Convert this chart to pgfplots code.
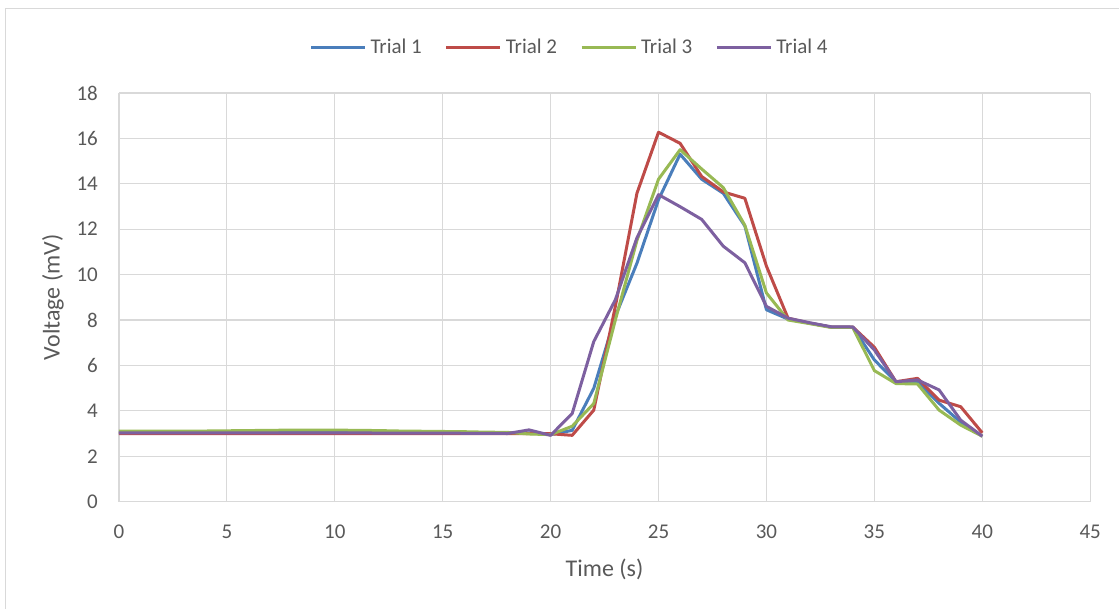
\documentclass[border=0pt]{standalone}
\usepackage{pgfplots}
\pgfplotsset{compat=1.18}
\usepackage{pgfplotstable}
\usepackage{fontspec}
\setmainfont{Carlito}
\definecolor{cT1}{HTML}{4A7EBB}
\definecolor{cT2}{HTML}{BE4B48}
\definecolor{cT3}{HTML}{98B954}
\definecolor{cT4}{HTML}{7D60A0}
\definecolor{txtgray}{HTML}{595959}
\definecolor{gridgray}{HTML}{D9D9D9}
\pgfplotstableread{
x T1 T2 T3 T4
0 3.05 3.00 3.10 3.03
1 3.05 3.00 3.10 3.03
2 3.05 3.00 3.10 3.03
3 3.05 3.00 3.11 3.03
4 3.05 3.00 3.11 3.03
5 3.05 3.00 3.12 3.03
6 3.05 3.00 3.13 3.03
7 3.05 3.00 3.14 3.03
8 3.06 3.00 3.15 3.03
9 3.06 3.00 3.15 3.03
10 3.06 2.99 3.15 3.03
11 3.06 2.99 3.14 3.03
12 3.05 2.99 3.13 3.02
13 3.05 2.99 3.11 3.02
14 3.05 2.99 3.10 3.02
15 3.04 2.99 3.09 3.02
16 3.04 2.99 3.08 3.01
17 3.03 2.99 3.06 3.01
18 3.02 2.99 3.05 3.00
19 3.03 3.00 2.98 3.16
20 2.95 2.99 2.95 2.92
21 3.14 2.92 3.32 3.88
22 4.99 4.03 4.32 7.05
23 8.16 8.60 8.00 8.89
24 10.50 13.58 11.50 11.62
25 13.30 16.27 14.20 13.52
26 15.30 15.78 15.50 12.99
27 14.20 14.32 14.65 12.43
28 13.58 13.64 13.83 11.25
29 12.14 13.36 12.17 10.52
30 8.45 10.37 9.19 8.60
31 8.04 8.08 8.00 8.08
32 7.86 7.86 7.84 7.88
33 7.69 7.69 7.67 7.70
34 7.69 7.69 7.67 7.69
35 6.24 6.80 5.77 6.68
36 5.28 5.28 5.20 5.28
37 5.28 5.43 5.18 5.36
38 4.33 4.47 4.03 4.92
39 3.50 4.18 3.37 3.59
40 2.88 3.03 2.88 2.88
}\data
\begin{document}
\begin{tikzpicture}[x=1pt,y=1pt]
\draw[gridgray, line width=0.8pt] (2.75,0) -- (2.75,300.25) -- (560,300.25);
\useasboundingbox (0,0) rectangle (560,304.5);
\begin{axis}[
  at={(59.5pt,53.5pt)}, anchor=south west,
  scale only axis, width=486pt, height=204.5pt,
  xmin=0, xmax=45, ymin=0, ymax=18,
  xtick={0,5,...,45}, ytick={0,2,...,18},
  grid=major,
  major grid style={gridgray, line width=0.6pt},
  axis line style={draw=none},
  axis x line*=bottom, axis y line*=left,
  x axis line style={draw=gridgray, line width=0.8pt},
  tick style={draw=none},
  major tick length=0pt,
  ticklabel style={font=\fontsize{10.5}{12}\selectfont, text=txtgray},
  /pgf/number format/assume math mode=true,
  xticklabel style={yshift=-8pt},
  yticklabel style={xshift=-7pt},
  xlabel={Time (s)},
  ylabel={Voltage (mV)},
  label style={font=\fontsize{12}{14}\selectfont, text=txtgray},
  xlabel style={yshift=-3.5pt},
  ylabel style={yshift=-0.5pt},
  legend columns=4,
  legend style={at={(0.465,1.11)}, anchor=center, draw=none, fill=none,
    font=\fontsize{10.5}{12}\selectfont, text=txtgray,
    /tikz/every even column/.append style={column sep=9.5pt}},
  legend image code/.code={\draw[#1, line width=1.5pt] (0pt,0pt) -- (27pt,0pt);},
  every axis plot/.append style={line width=1.5pt, line join=round},
]
\addplot[cT1, no markers] table[x=x,y=T1]{\data};
\addplot[cT2, no markers] table[x=x,y=T2]{\data};
\addplot[cT3, no markers] table[x=x,y=T3]{\data};
\addplot[cT4, no markers] table[x=x,y=T4]{\data};
\legend{Trial 1,Trial 2,Trial 3,Trial 4}
\end{axis}
\end{tikzpicture}
\end{document}
